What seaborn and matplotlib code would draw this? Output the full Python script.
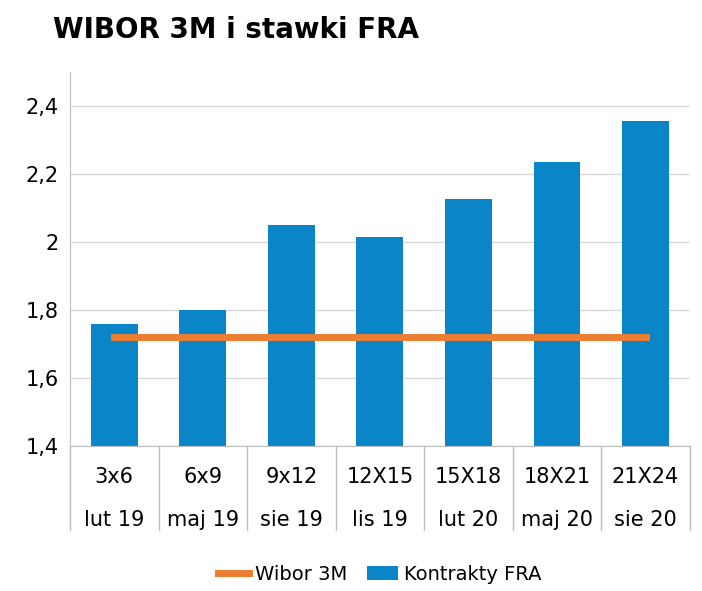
import pandas as pd
import seaborn as sns
import matplotlib.pyplot as plt

contracts = ["3x6", "6x9", "9x12", "12X15", "15X18", "18X21", "21X24"]
months = ["lut 19", "maj 19", "sie 19", "lis 19", "lut 20", "maj 20", "sie 20"]
fra_values = [1.76, 1.80, 2.05, 2.015, 2.125, 2.235, 2.355]
wibor_values = [1.72, 1.72, 1.72, 1.72, 1.72, 1.72, 1.72]

df = pd.DataFrame({"x": contracts, "fra": fra_values, "wibor": wibor_values})

fig = plt.figure(figsize=(7.02, 5.91), dpi=100)
ax = fig.add_axes([0.0997, 0.2453, 0.883, 0.633])

sns.barplot(data=df, x="x", y="fra", color="#0A86C8", width=0.53,
            saturation=1, ax=ax, label="Kontrakty FRA", zorder=2)
sns.lineplot(x=range(len(contracts)), y=wibor_values, color="#ED7D31",
             linewidth=5, ax=ax, label="Wibor 3M", zorder=3)

ax.set_ylim(1.4, 2.5)
ax.set_xlim(-0.5, 6.5)
ax.set_yticks([1.4, 1.6, 1.8, 2.0, 2.2, 2.4])
ax.set_yticklabels(["1,4", "1,6", "1,8", "2", "2,2", "2,4"], fontsize=15)
ax.yaxis.grid(True, color="#d9d9d9", linewidth=1, zorder=0)
ax.set_axisbelow(True)
ax.tick_params(axis="y", length=0, pad=8)
ax.set_xticks([])
ax.set_xlabel("")
ax.set_ylabel("")
for s in ["top", "right"]:
    ax.spines[s].set_visible(False)
ax.spines["left"].set_color("#bfbfbf")
ax.spines["bottom"].set_color("#bfbfbf")

# two-row category labels with separators
trans = ax.get_xaxis_transform()
for i in range(len(contracts) + 1):
    ax.plot([i - 0.5, i - 0.5], [0, -0.225], transform=trans, color="#bfbfbf",
            linewidth=1, clip_on=False)
for i, (c, m) in enumerate(zip(contracts, months)):
    ax.text(i, -0.083, c, transform=trans, ha="center", va="center", fontsize=15)
    ax.text(i, -0.198, m, transform=trans, ha="center", va="center", fontsize=15)

ax.legend(loc="upper center", bbox_to_anchor=(0.5, -0.27), ncol=2, frameon=False,
          fontsize=14, handlelength=1.6, columnspacing=1.0, handletextpad=0.3)

fig.text(0.075, 0.95, "WIBOR 3M i stawki FRA", fontsize=20, fontweight="bold",
         va="center")

fig.savefig("out.png", dpi=100)
